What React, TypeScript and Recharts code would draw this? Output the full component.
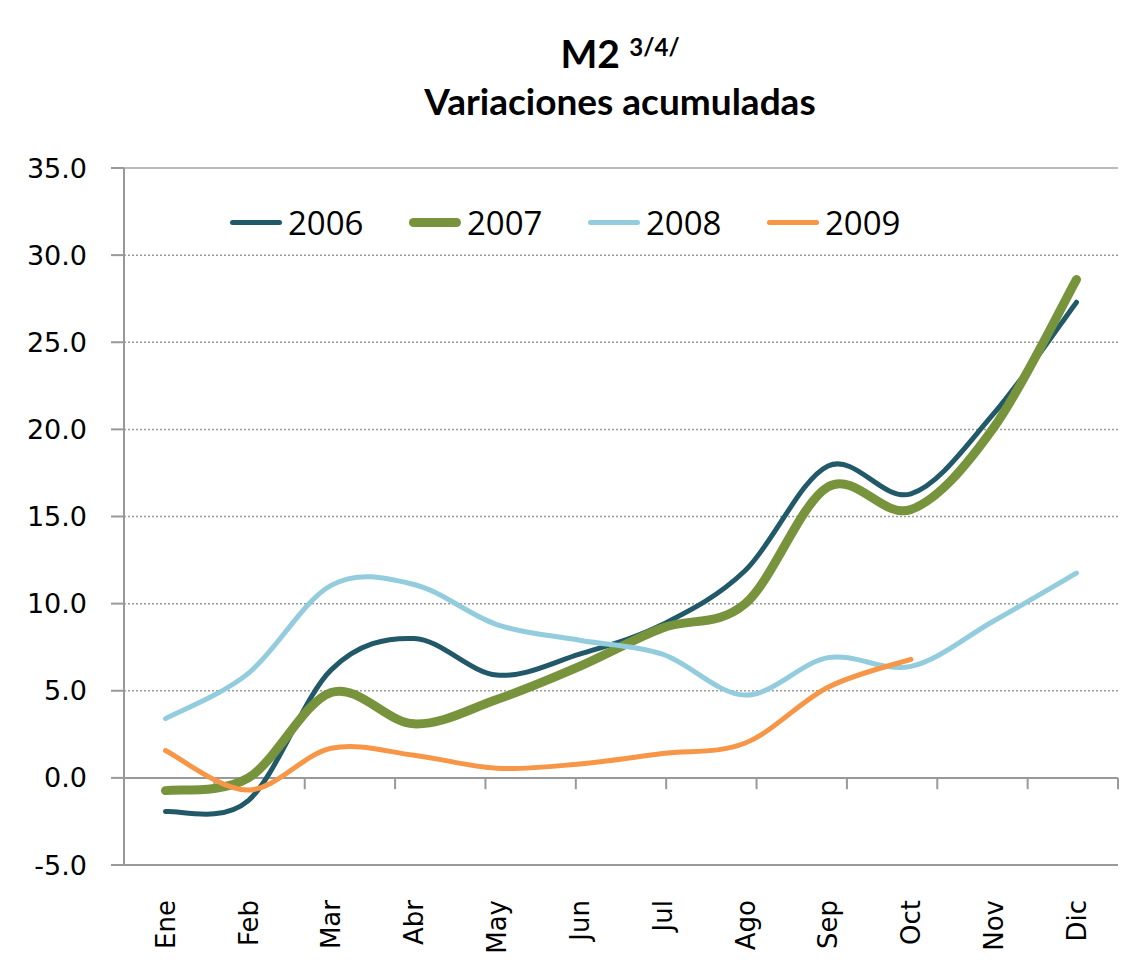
import {
  LineChart,
  Line,
  XAxis,
  YAxis,
  CartesianGrid,
  Legend,
  ReferenceLine,
} from 'recharts';

const months = ['Ene', 'Feb', 'Mar', 'Abr', 'May', 'Jun', 'Jul', 'Ago', 'Sep', 'Oct', 'Nov', 'Dic'];
const v2006 = [-1.93, -1.3, 6.2, 8.0, 5.9, 7.1, 8.8, 11.9, 17.9, 16.3, 20.9, 27.3];
const v2007 = [-0.73, 0.0, 4.9, 3.1, 4.5, 6.4, 8.6, 10.0, 16.7, 15.4, 20.1, 28.6];
const v2008 = [3.4, 6.0, 11.05, 11.1, 8.8, 7.9, 7.1, 4.75, 6.9, 6.4, 9.0, 11.75];
const v2009: (number | null)[] = [1.57, -0.7, 1.7, 1.3, 0.55, 0.8, 1.4, 2.0, 5.2, 6.8, null, null];
const yTicks = [-5, 0, 5, 10, 15, 20, 25, 30, 35];

const series = [
  { key: '2006', color: '#215968', width: 5 },
  { key: '2007', color: '#77933c', width: 9 },
  { key: '2008', color: '#93cddd', width: 5 },
  { key: '2009', color: '#f79646', width: 5 },
];

const data = months.map((m, i) => ({
  month: m,
  '2006': v2006[i],
  '2007': v2007[i],
  '2008': v2008[i],
  '2009': v2009[i],
}));

// category boundaries, for the little tick marks hanging off the zero line
const boundaries = months.slice(1).map((_, i) => i + 1);

// Excel-style smoothed line (uniform Catmull-Rom through the points)
function excelSmooth(context: any) {
  let pts: [number, number][] = [];
  return {
    areaStart() {},
    areaEnd() {},
    lineStart() {
      pts = [];
    },
    point(x: number, y: number) {
      pts.push([+x, +y]);
    },
    lineEnd() {
      const n = pts.length;
      if (!n) return;
      context.moveTo(pts[0][0], pts[0][1]);
      if (n === 1) {
        context.lineTo(pts[0][0], pts[0][1]);
        return;
      }
      for (let i = 0; i < n - 1; i++) {
        const p0 = pts[i - 1] || pts[i];
        const p1 = pts[i];
        const p2 = pts[i + 1];
        const p3 = pts[i + 2] || pts[i + 1];
        context.bezierCurveTo(
          p1[0] + (p2[0] - p0[0]) / 6,
          p1[1] + (p2[1] - p0[1]) / 6,
          p2[0] - (p3[0] - p1[0]) / 6,
          p2[1] - (p3[1] - p1[1]) / 6,
          p2[0],
          p2[1],
        );
      }
    },
  };
}

function MonthTick({ x, y, payload }: any) {
  return (
    <text
      x={x}
      y={y + 27}
      dy="0.36em"
      transform={`rotate(-90, ${x}, ${y + 27})`}
      textAnchor="end"
      fontFamily="DejaVu Sans"
      fontSize={26}
      fill="#000"
    >
      {payload.value}
    </text>
  );
}

function LegendContent() {
  return (
    <div style={{ display: 'flex' }}>
      {series.map((s) => (
        <div key={s.key} style={{ display: 'flex', alignItems: 'center', width: 179 }}>
          <span
            style={{
              display: 'inline-block',
              width: 52,
              height: s.width,
              background: s.color,
              borderRadius: s.width / 2,
              marginRight: 6,
            }}
          />
          <span style={{ fontFamily: '"Liberation Sans Narrow", "Open Sans", sans-serif', fontSize: 33, color: '#000' }}>
            {s.key}
          </span>
        </div>
      ))}
    </div>
  );
}

export default function App() {
  return (
    <div style={{ position: 'relative', width: 1127, height: 952 }}>
      <div
        style={{
          position: 'absolute',
          left: 362,
          width: 500,
          top: 20,
          textAlign: 'center',
          fontFamily: 'Lato, sans-serif',
          fontWeight: 700,
          color: '#000',
          zIndex: 1,
        }}
      >
        <div style={{ fontSize: 39, lineHeight: '50px' }}>
          M2 <sup style={{ fontSize: 24, verticalAlign: 'top', position: 'relative', top: -6 }}>3/4/</sup>
        </div>
        <div style={{ fontSize: 37, lineHeight: '46px' }}>Variaciones acumuladas</div>
      </div>
      <LineChart width={1127} height={952} data={data} margin={{ top: 160, right: 17, bottom: 0, left: 0 }}>
        <XAxis xAxisId="num" type="number" domain={[0, 12]} hide />
        <XAxis
          xAxisId="cat"
          dataKey="month"
          padding={{ left: 41.5, right: 41.5 }}
          height={95}
          axisLine={false}
          tickLine={false}
          interval={0}
          tick={<MonthTick />}
        />
        <YAxis
          domain={[-5, 35]}
          ticks={yTicks}
          interval={0}
          width={116}
          axisLine={false}
          stroke="#999"
          tickLine={{ stroke: '#999', strokeWidth: 2 }}
          tickSize={13}
          tickMargin={24}
          tickFormatter={(v: number) => v.toFixed(1)}
          tick={{ fontFamily: 'DejaVu Sans', fontSize: 27, fill: '#000' }}
        />
        <CartesianGrid xAxisId="num" vertical={false} stroke="#999" strokeDasharray="2 2" strokeWidth={1.5} />
        <ReferenceLine xAxisId="num" y={35} stroke="#bbb" strokeWidth={2} />
        <ReferenceLine xAxisId="num" y={-5} stroke="#999" strokeWidth={2} />
        <ReferenceLine xAxisId="num" x={12} stroke="#aaa" strokeWidth={2} />
        <ReferenceLine xAxisId="num" y={0} stroke="#999" strokeWidth={2} />
        <ReferenceLine xAxisId="num" x={0} stroke="#999" strokeWidth={2} />
        {boundaries.map((b) => (
          <ReferenceLine
            key={b}
            xAxisId="num"
            segment={[{ x: b, y: 0 }, { x: b, y: -0.65 }]}
            stroke="#999"
            strokeWidth={2}
          />
        ))}
        <Legend
          verticalAlign="middle"
          align="center"
          content={<LegendContent />}
          wrapperStyle={{ top: 192, left: 222, width: 800 }}
        />
        {series.map((s) => (
          <Line
            key={s.key}
            xAxisId="cat"
            dataKey={s.key}
            type={excelSmooth as any}
            stroke={s.color}
            strokeWidth={s.width}
            strokeLinecap="round"
            dot={false}
            activeDot={false}
            connectNulls={false}
            isAnimationActive={false}
          />
        ))}
      </LineChart>
    </div>
  );
}
